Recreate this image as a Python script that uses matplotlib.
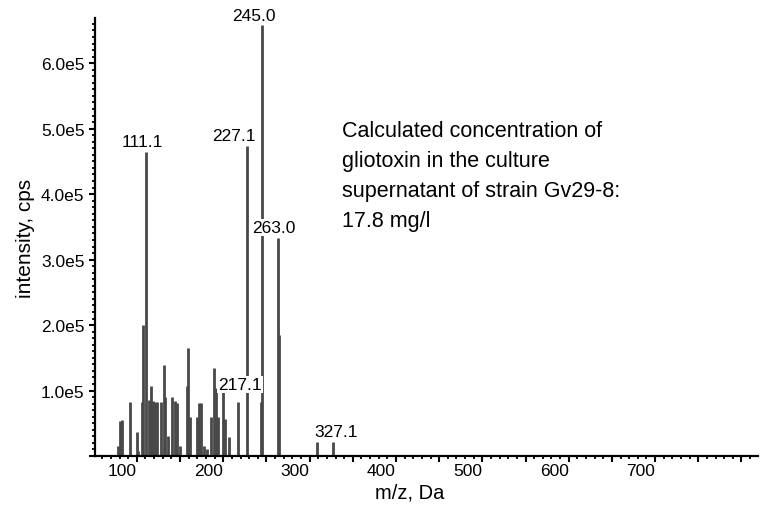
import matplotlib
matplotlib.use("Agg")
import matplotlib.pyplot as plt
from matplotlib.ticker import MultipleLocator, FuncFormatter

plt.rcParams['font.family'] = ['Liberation Sans', 'DejaVu Sans']

# peak list (m/z, intensity in units of 1e5 cps)
mz = [77.8, 80.4, 83.1, 92.0, 99.8, 101.9, 106.3, 107.4, 111.1, 114.4,
      116.3, 118.3, 121.0, 122.9, 127.6, 131.4, 133.1, 136.0, 141.0, 144.1,
      146.1, 150.0, 157.7, 158.8, 161.5, 169.3, 172.3, 174.2, 177.7, 181.2,
      185.5, 189.6, 191.3, 193.6, 200.1, 202.0, 206.7, 217.1, 227.1, 244.0,
      245.0, 263.0, 264.0, 308.2, 327.1]
intensity_e5 = [0.15, 0.54, 0.55, 0.82, 0.37, 0.08, 0.82, 2.00, 4.64, 0.86,
                1.07, 0.84, 0.82, 0.82, 0.82, 1.39, 0.90, 0.30, 0.90, 0.84,
                0.81, 0.15, 1.07, 1.65, 0.60, 0.60, 0.81, 0.81, 0.15, 0.10,
                0.60, 1.34, 1.04, 0.60, 0.98, 0.56, 0.29, 0.82, 4.73, 0.82,
                6.58, 3.33, 1.85, 0.22, 0.22]
intensity = [v * 1e5 for v in intensity_e5]

# labelled peaks
labelled = ["111.1", "217.1", "227.1", "245.0", "263.0", "327.1"]
# label offsets in pixels (dx, dy) from the peak top
label_offset = {"111.1": (-4, 3), "217.1": (2, 10), "227.1": (-13, 3),
                "245.0": (-8, 2), "263.0": (-4, 3), "327.1": (3, 3)}

note = ("Calculated concentration of\n"
        "gliotoxin in the culture\n"
        "supernatant of strain Gv29-8:\n"
        "17.8 mg/l")

fig = plt.figure(figsize=(7.64, 5.10), dpi=100)
ax = fig.add_axes([0.1243, 0.1039, 0.992 - 0.1243, 0.9627 - 0.1039])

ax.vlines(mz, 0, intensity, color='#484848', linewidth=2)

for lab in labelled:
    i = mz.index(float(lab))
    dx, dy = label_offset[lab]
    ax.annotate(lab, (mz[i], intensity[i]), xytext=(dx, dy),
                textcoords='offset pixels', ha='center', va='bottom',
                fontsize=12.5, color='black',
                bbox=dict(boxstyle='square,pad=0.05', fc='white', ec='none'))

ax.set_xlim(51.5, 819)
ax.set_ylim(0, 6.69e5)

ax.spines['top'].set_visible(False)
ax.spines['right'].set_visible(False)
ax.spines['left'].set_linewidth(1.6)
ax.spines['bottom'].set_linewidth(1.6)

ax.xaxis.set_major_locator(MultipleLocator(50))
ax.xaxis.set_minor_locator(MultipleLocator(10))
ax.xaxis.set_major_formatter(FuncFormatter(
    lambda v, p: "%d" % v if v % 100 == 0 and 100 <= v <= 700 else ""))
ax.yaxis.set_major_locator(MultipleLocator(1e5))
ax.yaxis.set_minor_locator(MultipleLocator(1e4))
ax.yaxis.set_major_formatter(FuncFormatter(
    lambda v, p: "%.1fe5" % (v / 1e5) if v > 0 else ""))

ax.tick_params(axis='both', which='major', labelsize=12.5, width=1.5,
               length=4, direction='out')
ax.tick_params(axis='both', which='minor', width=1.3, length=2.5,
               direction='out')
ax.tick_params(axis='x', which='major', pad=1)
for t in ax.get_xticklabels():
    t.set_ha('right')

ax.set_xlabel("m/z, Da", fontsize=14.5)
ax.xaxis.set_label_coords(0.475, -0.06)
ax.set_ylabel("intensity, cps", fontsize=15, labelpad=4)

fig.text(342 / 764, 1 - 121 / 510, note, fontsize=15.5, va='top',
         ha='left', linespacing=1.56)

fig.savefig("out.png", dpi=100)
